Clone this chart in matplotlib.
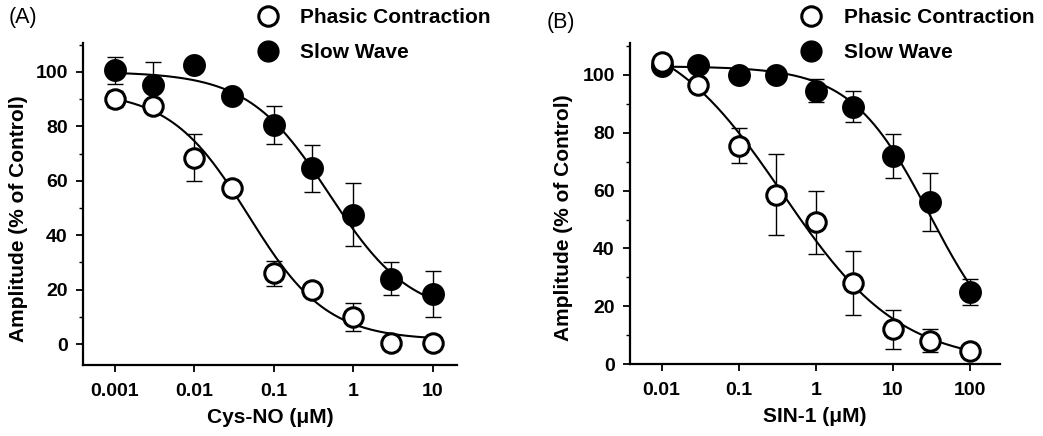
import numpy as np
import matplotlib
matplotlib.use("Agg")
import matplotlib.pyplot as plt
from matplotlib.lines import Line2D
from matplotlib.ticker import FixedLocator, MultipleLocator, NullLocator

plt.rcParams['font.family'] = ['Liberation Sans', 'DejaVu Sans']
plt.rcParams['font.weight'] = 'bold'
plt.rcParams['axes.labelweight'] = 'bold'
plt.rcParams['font.size'] = 14

# panel A: Cys-NO
conc_a = [0.001, 0.003, 0.01, 0.03, 0.1, 0.3, 1, 3, 10]
phasic_a = [90, 87.5, 68.5, 57.5, 26, 20, 10, 0.5, 0.5]
phasic_a_err = [3, 2, 8.7, 1.5, 4.5, 2, 5, 1, 1]
slow_a = [100.5, 95, 102.5, 91, 80.5, 64.5, 47.5, 24, 18.5]
slow_a_err = [5, 8.5, 0, 1, 7, 8.5, 11.5, 6, 8.5]
# Hill fit parameters (top, bottom, IC50, slope)
fit_phasic_a = (93, 1.5, 0.048, 0.88)
fit_slow_a = (100, 10, 0.5, 0.85)

# panel B: SIN-1
conc_b = [0.01, 0.03, 0.1, 0.3, 1, 3, 10, 30, 100]
phasic_b = [104.5, 96.5, 75.5, 58.5, 49, 28, 12, 8, 4.5]
phasic_b_err = [2, 2, 6, 14, 11, 11, 6.7, 4, 1]
slow_b = [103, 103.5, 100, 100, 94.5, 89, 72, 56, 25]
slow_b_err = [1.5, 1, 1, 1, 4, 5.4, 7.6, 10, 4.5]
fit_phasic_b = (118, 0, 0.37, 0.57)
fit_slow_b = (103, 0, 30, 0.85)


def hill(x, p):
    top, bottom, ic50, n = p
    return bottom + (top - bottom) / (1 + (x / ic50) ** n)


def panel(ax, conc, ph, ph_err, sw, sw_err, fit_ph, fit_sw, xlim, ylim, xticks, xticklabels, xlabel, ylab_x):
    xs = np.logspace(np.log10(conc[0]), np.log10(conc[-1]), 300)
    ax.plot(xs, hill(xs, fit_ph), color='black', lw=1.5, zorder=2)
    ax.plot(xs, hill(xs, fit_sw), color='black', lw=1.5, zorder=2)
    ax.errorbar(conc, sw, yerr=sw_err, fmt='none', ecolor='black', elinewidth=1, capsize=6, capthick=1, zorder=1)
    ax.errorbar(conc, ph, yerr=ph_err, fmt='none', ecolor='black', elinewidth=1, capsize=6, capthick=1, zorder=1)
    ax.plot(conc, sw, 'o', ms=15, mfc='black', mec='black', mew=1.5, ls='none', zorder=3)
    ax.plot(conc, ph, 'o', ms=14, mfc='white', mec='black', mew=2.2, ls='none', zorder=4)
    ax.set_xscale('log')
    ax.set_xlim(*xlim)
    ax.set_ylim(*ylim)
    ax.xaxis.set_major_locator(FixedLocator(xticks))
    ax.set_xticklabels(xticklabels)
    ax.xaxis.set_minor_locator(NullLocator())
    ax.yaxis.set_major_locator(FixedLocator([0, 20, 40, 60, 80, 100]))
    ax.yaxis.set_minor_locator(MultipleLocator(10))
    ax.tick_params(which='major', direction='out', length=5, width=1.3, pad=6)
    ax.tick_params(which='minor', direction='out', length=3, width=1.0)
    ax.tick_params(axis='x', pad=8)
    for s in ['top', 'right']:
        ax.spines[s].set_visible(False)
    for s in ['left', 'bottom']:
        ax.spines[s].set_linewidth(1.6)
    ax.set_xlabel(xlabel, labelpad=6, fontsize=15)
    ax.set_ylabel('Amplitude (% of Control)', fontsize=15)
    ax.yaxis.set_label_coords(ylab_x, 0.455)


fig = plt.figure(figsize=(10.43, 4.36), dpi=100)
ax1 = fig.add_axes([0.0796, 0.163, 0.3584, 0.738])
ax2 = fig.add_axes([0.604, 0.165, 0.355, 0.736])

panel(ax1, conc_a, phasic_a, phasic_a_err, slow_a, slow_a_err, fit_phasic_a, fit_slow_a,
      (4e-4, 20), (-7.6, 110.5), [0.001, 0.01, 0.1, 1, 10], ['0.001', '0.01', '0.1', '1', '10'],
      'Cys-NO (\u03bcM)', -0.147)
panel(ax2, conc_b, phasic_b, phasic_b_err, slow_b, slow_b_err, fit_phasic_b, fit_slow_b,
      (0.0039, 245), (0, 111), [0.01, 0.1, 1, 10, 100], ['0.01', '0.1', '1', '10', '100'],
      'SIN-1 (\u03bcM)', -0.155)

fig.text(0.008, 0.96, '(A)', fontsize=15.5, fontweight='normal', va='center', ha='left')
fig.text(0.524, 0.948, '(B)', fontsize=15.5, fontweight='normal', va='center', ha='left')

handles = [Line2D([], [], marker='o', ls='none', ms=14, mfc='white', mec='black', mew=2.2),
           Line2D([], [], marker='o', ls='none', ms=15, mfc='black', mec='black')]
labels = ['Phasic Contraction', 'Slow Wave']
for x0 in (0.229, 0.750):
    fig.legend(handles, labels, loc='upper left', bbox_to_anchor=(x0, 1.0), frameon=False,
               handletextpad=0.55, labelspacing=0.75, borderaxespad=0, fontsize=15)

fig.savefig('out.png', dpi=100)
